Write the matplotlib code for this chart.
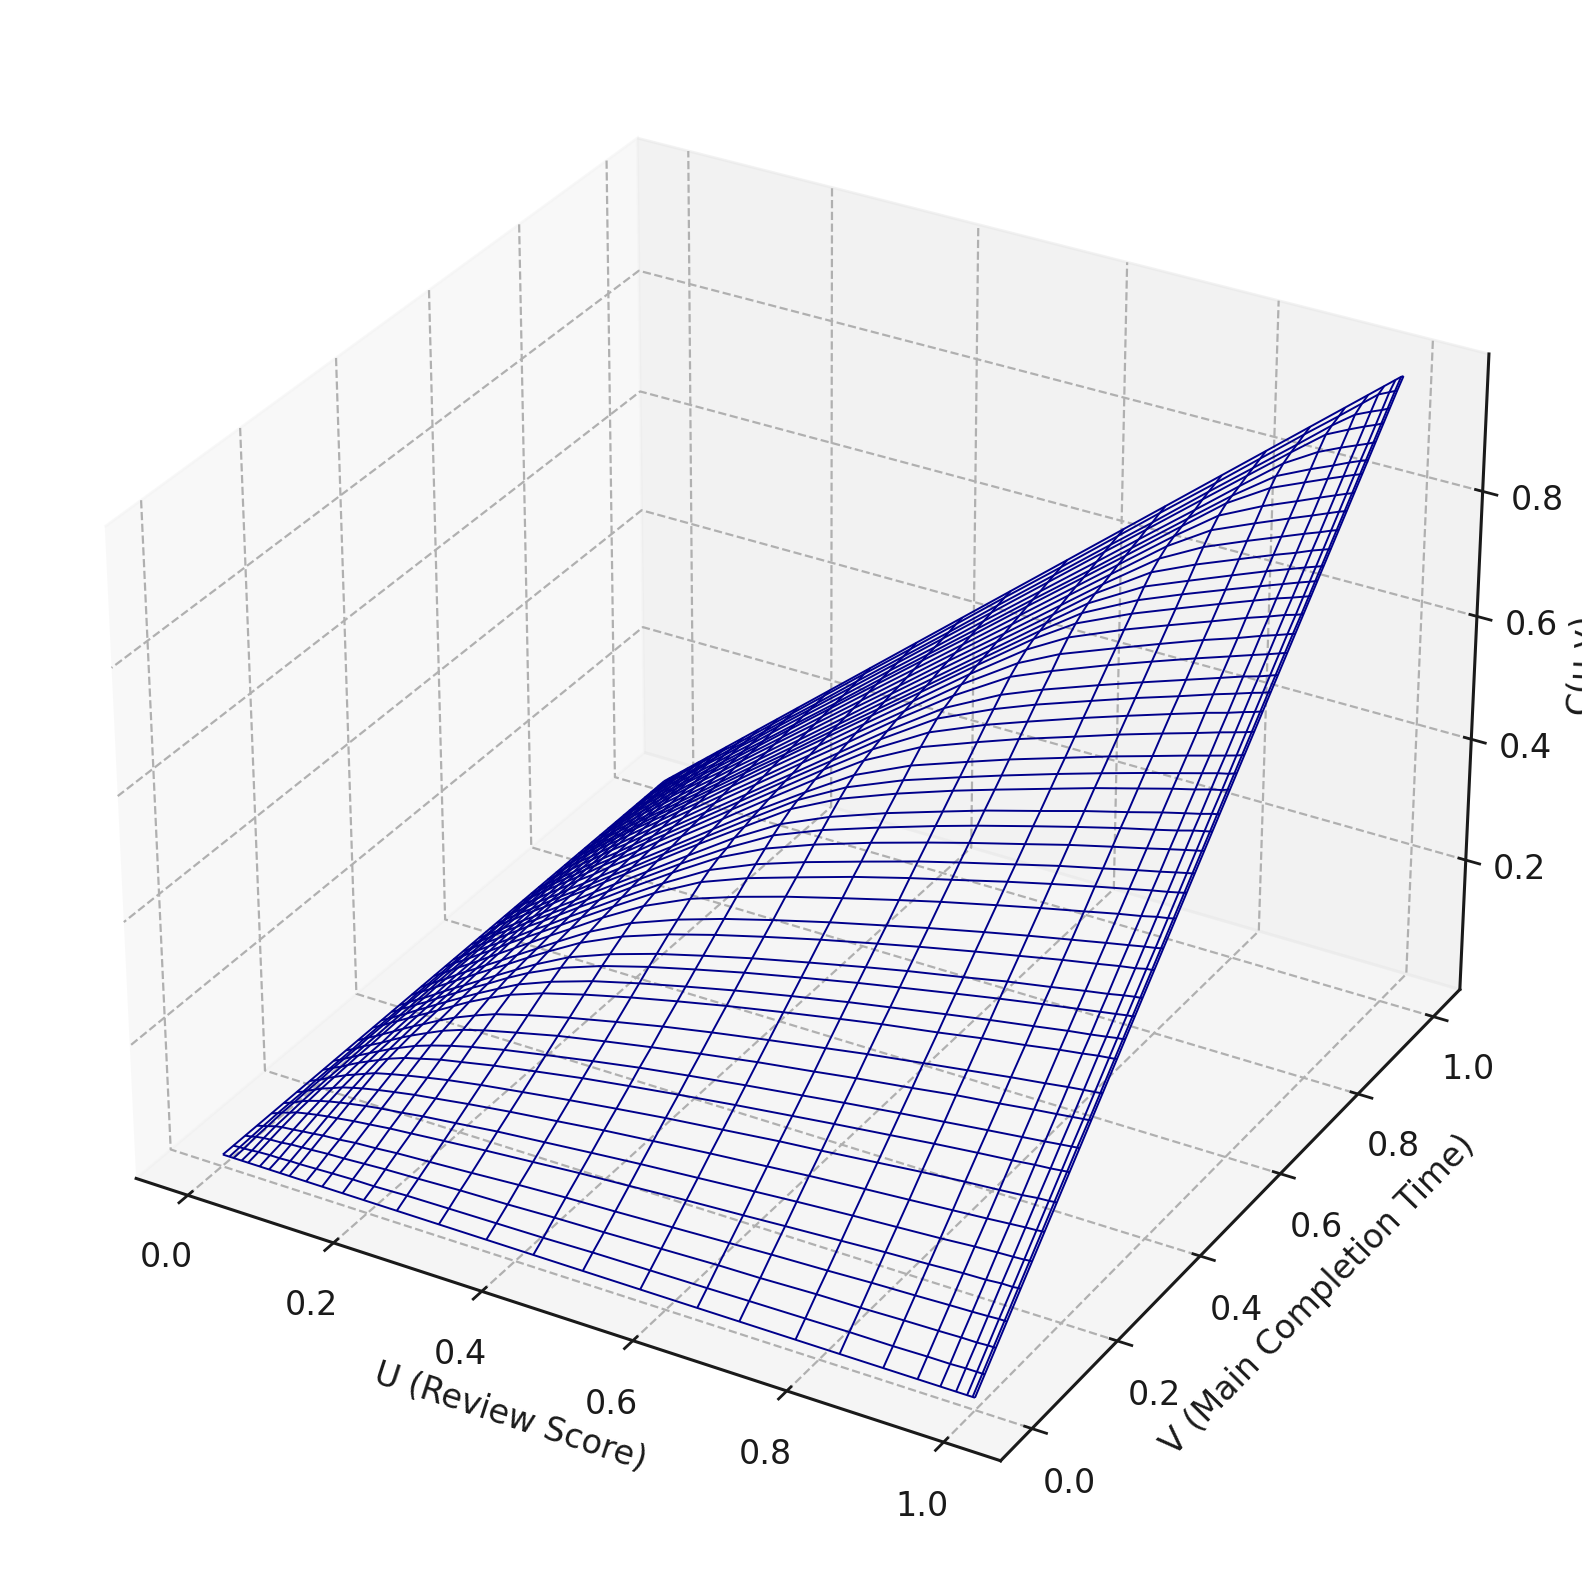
import numpy as np
import matplotlib
matplotlib.use("Agg")
import matplotlib.pyplot as plt

u_grid = [.001,.01,.016,.027,.036,.052,.065,.08,.093,.116,.138,.166,.195,.24,.297,.361,.424,.49,.566,.641,.696,.769,.826,.882,.926,.955,.975,.989,.996,.999]
v_grid = [.001,.023,.048,.073,.104,.130,.158,.186,.215,.238,.265,.291,.324,.343,.365,.383,.410,.431,.460,.485,.504,.526,.545,.562,.586,.602,.620,.643,.663,.682,.699,.721,.740,.760,.778,.793,.808,.825,.844,.863,.881,.900,.914,.932,.951,.966,.984,.999]

# C(u,v) in thousandths: one row per v, one column per u (hand estimates)
c_table = [
[1]*30,
[1,2,2,3,4,5,5,6,6,7,8,9,9,11,12,13,14,16,17,18,19,20,21,21,22,22,23,23,23,23],
[1,3,5,7,8,9,11,12,13,15,16,18,20,22,25,27,30,32,35,38,39,42,43,45,46,47,47,48,48,48],
[1,4,6,10,12,14,16,18,20,22,25,27,30,33,37,42,46,49,53,57,60,63,66,68,70,71,72,73,73,73],
[1,5,8,12,16,20,23,26,28,32,35,39,42,47,53,59,65,70,76,81,85,90,94,97,100,101,103,103,104,104],
[1,5,8,14,18,24,28,32,35,40,44,48,53,59,67,74,81,88,95,102,107,113,117,121,125,127,128,129,130,130],
[1,5,9,15,20,27,33,38,42,48,53,59,64,72,81,90,99,107,116,124,130,137,142,147,151,154,156,157,158,158],
[1,6,9,16,21,30,36,43,49,56,62,69,76,85,95,106,116,126,136,146,152,161,168,174,178,181,184,185,186,186],
[1,6,10,16,22,32,39,47,54,64,71,80,87,98,110,123,134,145,157,168,176,186,194,201,206,210,212,214,215,215],
[1,6,10,17,23,33,41,50,57,69,78,88,97,109,122,136,149,161,174,186,195,206,214,222,228,232,235,237,238,238],
[1,6,10,18,23,33,42,52,60,73,85,97,107,120,136,151,165,179,194,207,217,229,239,247,254,258,261,263,264,265],
[1,7,11,18,24,35,44,54,62,77,90,104,117,132,149,166,182,197,213,228,239,252,262,272,279,284,287,289,290,291],
[1,7,11,19,25,36,45,55,64,80,95,112,128,147,166,185,202,219,237,254,266,280,292,302,311,316,320,322,323,324],
[1,7,11,19,25,37,46,57,66,82,97,115,133,154,176,196,214,232,251,269,281,297,309,320,329,334,338,341,342,343],
[1,7,12,19,26,37,47,58,67,84,99,119,138,163,187,209,228,247,267,286,299,316,329,341,350,356,360,363,364,365],
[1,7,12,20,26,38,48,59,68,85,101,121,141,169,195,219,239,259,280,300,314,331,345,357,367,373,378,381,382,383],
[1,8,12,20,27,39,49,60,70,87,103,124,145,176,207,234,256,277,300,321,336,355,369,383,393,400,404,408,409,410],
[1,8,12,21,27,40,50,61,71,88,105,126,148,181,216,245,269,291,315,337,353,373,388,402,413,420,425,428,430,431],
[1,8,12,21,28,40,50,62,72,90,107,129,151,186,226,261,287,311,336,360,377,398,414,429,441,448,454,457,459,460],
[1,8,13,21,28,41,51,63,74,92,109,131,154,189,232,273,302,327,355,380,397,420,437,453,465,473,478,482,484,485],
[1,8,13,22,29,42,52,64,74,93,110,133,156,192,236,281,313,340,368,395,413,436,454,470,483,491,497,501,503,504],
[1,8,13,22,29,42,53,65,76,94,112,135,158,195,240,288,325,355,385,412,431,455,474,491,504,513,519,523,525,526],
[1,8,13,22,30,43,53,66,76,95,113,136,160,197,243,292,335,367,398,427,447,472,491,509,522,531,538,542,544,545],
[1,8,13,22,30,43,54,66,77,96,114,138,162,199,246,298,343,378,411,440,461,486,506,524,539,548,554,559,561,562],
[1,8,14,23,30,44,55,67,78,98,116,140,164,202,250,302,353,393,428,459,480,507,528,547,562,571,578,582,585,586],
[1,8,14,23,31,44,55,68,79,98,117,141,165,204,252,306,358,402,440,471,493,521,542,562,577,587,594,598,601,602],
[1,9,14,23,31,45,56,68,80,99,118,142,167,205,254,309,360,411,453,485,508,536,558,578,594,604,611,616,619,620],
[1,9,14,23,31,45,56,69,81,100,120,144,169,208,257,313,367,421,469,503,527,556,579,600,616,627,634,639,642,643],
[1,9,14,24,32,46,57,70,81,102,121,145,171,210,260,316,371,427,481,519,543,574,597,619,636,646,654,659,662,663],
[1,9,14,24,32,46,57,71,82,102,122,147,172,212,262,319,374,432,492,533,559,590,614,636,654,665,673,678,681,682],
[1,9,14,24,32,46,58,71,83,103,123,148,174,214,264,321,377,436,499,546,573,605,629,652,670,682,689,695,698,699],
[1,9,14,24,32,47,58,72,84,104,124,149,175,216,267,325,381,441,506,562,590,624,649,673,691,703,711,717,720,721],
[1,9,15,25,33,47,59,73,84,105,125,151,177,218,269,327,385,444,513,573,606,640,666,691,709,722,730,736,739,740],
[1,9,15,25,33,48,60,73,85,106,126,152,178,220,272,330,388,448,518,583,621,658,684,709,729,741,750,755,758,760],
[1,9,15,25,33,48,60,74,86,107,127,153,180,221,274,333,391,452,522,590,633,673,700,726,746,759,767,773,776,778],
[1,9,15,25,33,48,60,74,86,108,128,154,181,223,275,335,393,454,525,594,641,686,714,740,760,773,782,788,791,793],
[1,9,15,25,34,49,61,75,87,108,129,155,182,224,277,337,396,457,528,598,648,699,727,754,775,788,797,803,806,808],
[1,9,15,25,34,49,61,75,87,109,130,156,183,226,279,339,399,461,532,602,654,712,743,770,791,804,814,820,823,825],
[1,9,15,26,34,49,62,76,88,110,131,157,185,227,281,342,401,464,535,606,658,723,760,788,809,823,832,839,842,844],
[1,10,15,26,34,50,62,76,89,111,132,158,186,229,283,344,404,467,539,611,663,732,776,805,827,841,851,858,861,863],
[1,10,15,26,35,50,62,77,89,111,133,159,187,230,285,347,407,470,543,615,668,738,789,822,844,859,869,876,879,881],
[1,10,16,26,35,50,63,77,90,112,133,160,188,232,287,349,410,473,547,619,672,743,798,840,863,878,888,895,898,900],
[1,10,16,26,35,51,63,78,90,113,134,161,189,233,288,351,412,476,550,622,676,747,802,851,876,891,902,909,912,914],
[1,10,16,26,35,51,64,78,91,113,135,162,191,235,290,353,414,479,553,626,680,751,807,861,893,909,919,926,930,932],
[1,10,16,27,35,51,64,79,92,114,136,163,192,236,292,355,417,482,557,631,685,757,813,868,910,927,938,945,949,951],
[1,10,16,27,36,51,64,79,92,115,136,164,193,237,294,357,419,485,560,634,688,761,817,872,916,942,953,960,964,966],
[1,10,16,27,36,52,65,80,93,115,137,165,194,239,296,359,422,488,563,638,693,765,822,878,921,950,970,978,982,984],
[1,10,16,27,36,52,65,80,93,116,138,166,195,240,297,361,424,490,566,641,696,769,826,882,926,955,975,989,996,998],
]

z_ticks = [0.2, 0.4, 0.6, 0.8]
x_label = "U (Review Score)"
y_label = "V (Main Completion Time)"
z_label = "C(u,v)"

plt.rcParams.update({
    "grid.linestyle": "--", "grid.color": "#b0b0b0", "grid.linewidth": 0.8,
    "axes.edgecolor": "#1a1a1a", "text.color": "#1a1a1a",
    "xtick.color": "#1a1a1a", "ytick.color": "#1a1a1a",
    "axes.labelcolor": "#1a1a1a", "font.size": 12,
    "axes.linewidth": 1.1, "xtick.major.width": 1.0, "ytick.major.width": 1.0,
})

fig = plt.figure(figsize=(7.91, 7.90), dpi=200)
ax = fig.add_axes([0.012, 0.014, 0.974, 0.974], projection="3d")
ax.set_zmargin(0)
U, V = np.meshgrid(np.array(u_grid), np.array(v_grid))
Z = np.array(c_table) / 1000.0
ax.plot_wireframe(U, V, Z, rstride=1, cstride=1, color="darkblue", linewidth=0.7)
ax.set_zlim(-0.018, 1.016)
ax.set_zticks(z_ticks)
ax.set_xlabel(x_label, fontsize=12, labelpad=5)
ax.set_ylabel(y_label, fontsize=12, labelpad=5)
ax.set_zlabel(z_label, fontsize=12, labelpad=3)
ax.tick_params(labelsize=12, pad=4)
for axis in (ax.xaxis, ax.yaxis, ax.zaxis):
    axis.line.set_linewidth(1.1)
    axis.line.set_color("#1a1a1a")
fig.savefig("out.png", dpi=200)
